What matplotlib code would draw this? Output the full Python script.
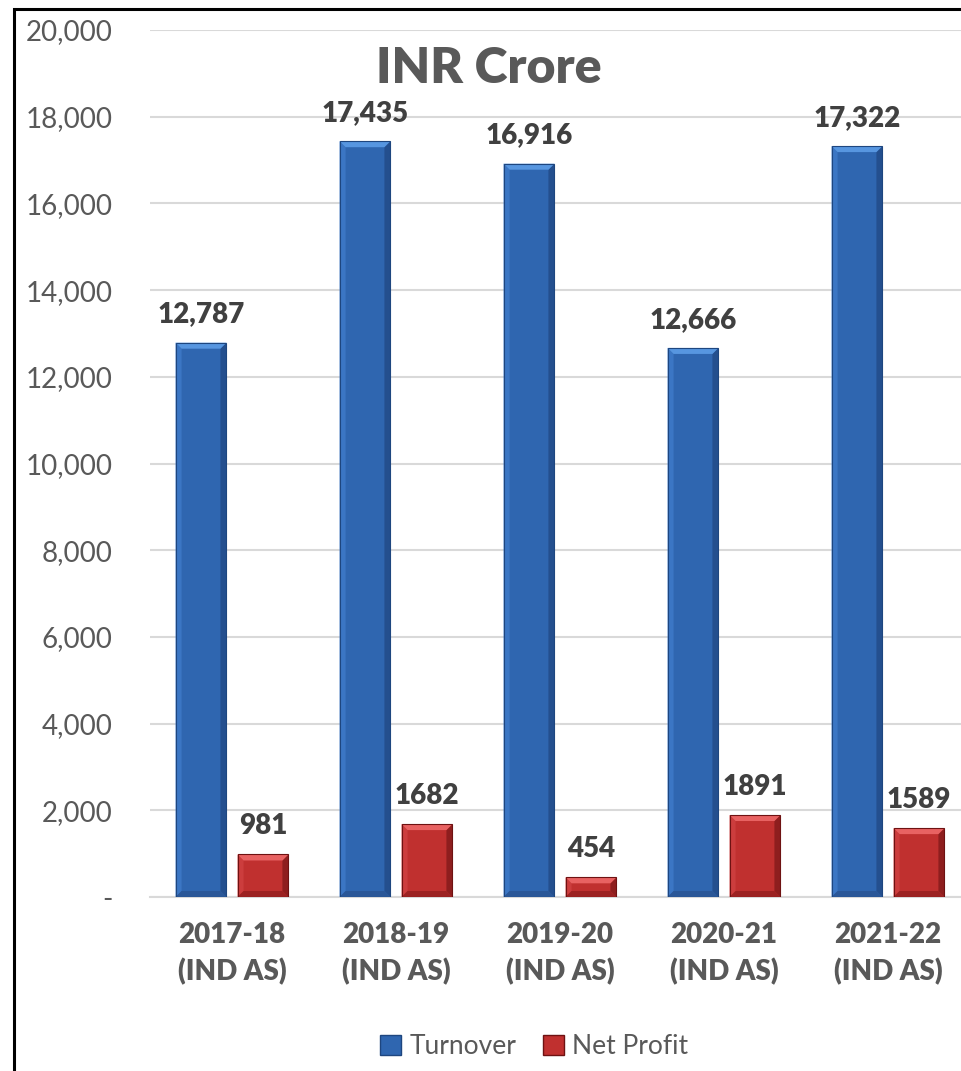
import matplotlib
matplotlib.use("Agg")
import matplotlib.pyplot as plt
from matplotlib.patches import Rectangle, Polygon
from matplotlib.ticker import FuncFormatter
import numpy as np

years = ["2017-18\n(IND AS)", "2018-19\n(IND AS)", "2019-20\n(IND AS)",
         "2020-21\n(IND AS)", "2021-22\n(IND AS)"]
turnover = [12787, 17435, 16916, 12666, 17322]
net_profit = [981, 1682, 454, 1891, 1589]
turnover_labels = ["12,787", "17,435", "16,916", "12,666", "17,322"]
profit_labels = ["981", "1682", "454", "1891", "1589"]
yticks = [0, 2000, 4000, 6000, 8000, 10000, 12000, 14000, 16000, 18000, 20000]

plt.rcParams['font.family'] = ['Lato', 'DejaVu Sans']
W, H = 961, 1071
fig = plt.figure(figsize=(W / 100, H / 100), dpi=100)
ax = fig.add_axes([150 / W, (H - 897) / H, 820 / W, 867 / H])

x = np.arange(len(years))
off = 0.189
bw = 0.31
blue = dict(body="#2F66B0", top="#5796E0", left="#3B76C4", right="#244F8E", bottom="#2A5798", edge="#1E467F")
red = dict(body="#C0302F", top="#E86262", left="#CC3D3D", right="#8E1E1E", bottom="#9C2222", edge="#6E1212")

ax.set_xlim(-0.5, len(years) - 0.5)
ax.set_ylim(0, 20000)

b1 = ax.bar(x - off, turnover, bw, color=blue["body"], zorder=3)
b2 = ax.bar(x + off, net_profit, bw, color=red["body"], zorder=3)

fig.canvas.draw()
inv = ax.transData.inverted()
d = 6  # bevel in px


def bevel(bars, c):
    for p in bars:
        x0, y0 = p.get_x(), p.get_y()
        x1, y1 = x0 + p.get_width(), y0 + p.get_height()
        (X0, Y0), (X1, Y1) = ax.transData.transform([(x0, y0), (x1, y1)])
        dd = min(d, (Y1 - Y0) / 2)
        polys = {
            "left": [(X0, Y1), (X0 + dd, Y1 - dd), (X0 + dd, Y0 + dd), (X0, Y0)],
            "right": [(X1, Y1), (X1 - dd, Y1 - dd), (X1 - dd, Y0 + dd), (X1, Y0)],
            "bottom": [(X0, Y0), (X0 + dd, Y0 + dd), (X1 - dd, Y0 + dd), (X1, Y0)],
            "top": [(X0, Y1), (X1, Y1), (X1 - dd, Y1 - dd), (X0 + dd, Y1 - dd)],
        }
        for k, pts in polys.items():
            dpts = inv.transform(pts)
            ax.add_patch(Polygon(dpts, closed=True, facecolor=c[k], edgecolor="none", zorder=4))
        ax.add_patch(Rectangle((x0, y0), x1 - x0, y1 - y0, fill=False,
                               edgecolor=c["edge"], linewidth=0.8, zorder=5))


bevel(b1, blue)
bevel(b2, red)

for xi, v, s in zip(x, turnover, turnover_labels):
    ax.annotate(s, (xi - off, v), xytext=(0, 14.5), textcoords="offset points",
                ha="center", va="baseline", fontsize=20, fontweight="heavy", color="#404040", zorder=6)
for xi, v, s in zip(x, net_profit, profit_labels):
    ax.annotate(s, (xi + off, v), xytext=(0, 14.5), textcoords="offset points",
                ha="center", va="baseline", fontsize=20, fontweight="heavy", color="#404040", zorder=6)

ax.set_yticks(yticks)
ax.yaxis.set_major_formatter(FuncFormatter(lambda v, p: "-" if v == 0 else f"{int(v):,}"))
ax.set_xticks(x)
ax.set_xticklabels(years, fontsize=20, fontweight="heavy", color="#595959", linespacing=1.45)
ax.tick_params(axis="y", length=0, pad=27, labelsize=20, labelcolor="#595959")
ax.tick_params(axis="x", length=0, pad=18)
ax.grid(axis="y", color="#D9D9D9", linewidth=1.5, zorder=0)
ax.set_axisbelow(True)
for s in ["top", "right", "left"]:
    ax.spines[s].set_visible(False)
ax.spines["bottom"].set_color("#D9D9D9")
ax.spines["bottom"].set_linewidth(1.5)

fig.text(489 / W, 1 - 83 / H, "INR Crore", ha="center", va="baseline",
         fontsize=36, fontweight="heavy", color="#595959")

handles = [Rectangle((0, 0), 1, 1, facecolor=blue["body"], edgecolor=blue["edge"]),
           Rectangle((0, 0), 1, 1, facecolor=red["body"], edgecolor=red["edge"])]
fig.legend(handles, ["Turnover", "Net Profit"], loc="center", bbox_to_anchor=(534 / W, 1 - 1047 / H),
           ncol=2, frameon=False, fontsize=19, labelcolor="#595959",
           handlelength=0.8, handleheight=0.8, handletextpad=0.3, columnspacing=1.0)

fig.add_artist(Rectangle((14 / W, -0.1), 1.2, 1.1 - 9 / H, transform=fig.transFigure,
                         fill=False, edgecolor="black", linewidth=2.2))

fig.savefig("out.png", dpi=100)
